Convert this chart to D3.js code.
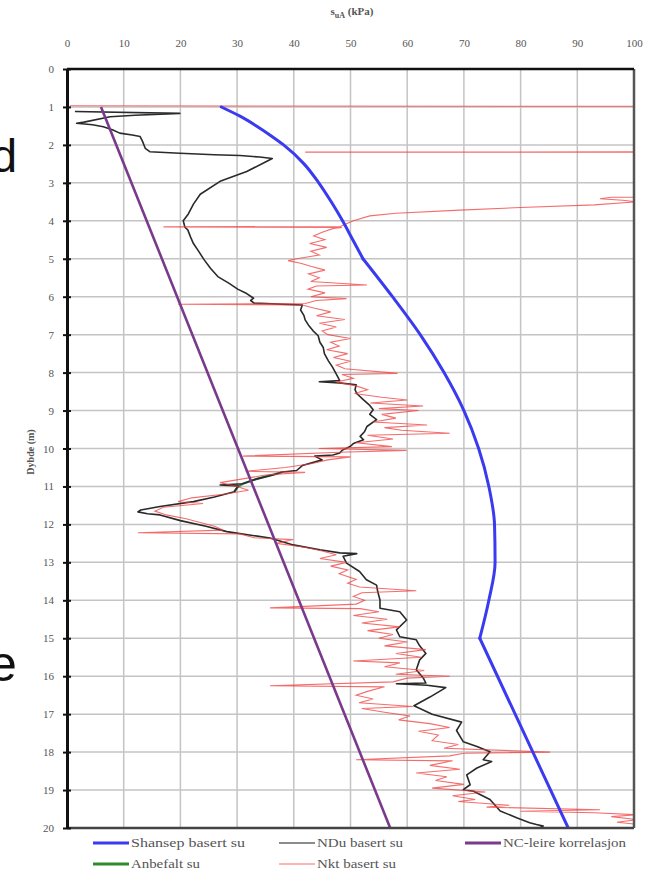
<!DOCTYPE html>
<html>
<head>
<meta charset="utf-8">
<script src="https://cdn.jsdelivr.net/npm/d3@7"></script>
<style>
  html, body { margin: 0; padding: 0; background: #fff; }
  svg { display: block; }
</style>
</head>
<body>
<svg id="chart" width="650" height="872"></svg>
<script>
// akser
const xTicks = [0, 10, 20, 30, 40, 50, 60, 70, 80, 90, 100];
const depthTicks = d3.range(0, 21);

// Shansep basert su (knekk ved 5 m og 15 m)
const shansepDepth = [1, 1.25, 1.5, 1.75, 2, 2.5, 3, 3.5, 4, 4.5, 5, 6, 7, 8, 9, 10, 11, 12, 13, 14, 15, 20];
const shansepSu = [27.2, 30.6, 33.4, 35.9, 38.2, 41.8, 44.4, 46.6, 48.6, 50.4, 52.2, 57.4, 62.3, 66.5, 70.0, 72.6, 74.4, 75.4, 75.5, 74.4, 72.8, 88.4];
const shansepKinks = [5, 15];

// NC-leire korrelasjon
const ncDepth = [1, 20];
const ncSu = [6.0, 57.0];

// Anbefalt su (mest skjult under NDu)
const anbefaltDepth = [10.62, 10.69, 10.8, 10.93, 11.0, 11.14];
const anbefaltSu = [38.0, 36.4, 33.5, 31.0, 30.2, 29.5];

// NDu basert su
const nduDepth = [1.12, 1.17, 1.22, 1.26, 1.4, 1.43, 1.47, 1.52, 1.6, 1.69, 1.74, 1.78, 1.9, 2.09, 2.18, 2.22, 2.26, 2.28, 2.32, 2.36, 2.45, 2.7, 2.96, 3.3, 3.56, 3.82, 4.0, 4.17, 4.24, 4.43, 4.6, 4.8, 5.03, 5.25, 5.47, 5.65, 5.8, 5.9, 6.04, 6.1, 6.17, 6.22, 6.35, 6.5, 6.61, 6.75, 6.9, 7.03, 7.2, 7.34, 7.5, 7.69, 7.85, 8.04, 8.21, 8.24, 8.27, 8.32, 8.45, 8.55, 8.72, 8.85, 8.98, 9.1, 9.24, 9.42, 9.55, 9.68, 9.77, 9.87, 9.94, 10.05, 10.12, 10.17, 10.2, 10.3, 10.45, 10.58, 10.62, 10.69, 10.8, 10.93, 10.96, 10.99, 11.14, 11.28, 11.4, 11.53, 11.62, 11.67, 11.72, 11.75, 11.9, 12.05, 12.19, 12.36, 12.54, 12.67, 12.75, 12.77, 12.84, 13.02, 13.24, 13.46, 13.6, 13.77, 13.99, 14.21, 14.3, 14.52, 14.78, 14.96, 15.04, 15.2, 15.4, 15.57, 15.83, 16.04, 16.18, 16.2, 16.24, 16.3, 16.55, 16.78, 17.0, 17.21, 17.43, 17.73, 17.85, 17.99, 18.2, 18.25, 18.42, 18.6, 18.86, 18.99, 19.03, 19.25, 19.4, 19.55, 19.73, 19.86, 19.91, 19.95, 19.98];
const nduSu = [1.4, 19.9, 12.0, 7.6, 3.0, 1.7, 4.5, 6.4, 8.0, 9.3, 11.5, 12.9, 13.3, 13.8, 14.6, 19.9, 26.0, 30.5, 34.0, 36.2, 35.0, 31.7, 27.0, 23.5, 22.3, 21.4, 20.5, 20.8, 21.3, 21.8, 22.3, 23.2, 24.2, 25.3, 26.6, 28.6, 30.1, 31.5, 32.9, 32.4, 33.0, 41.5, 41.2, 41.8, 42.0, 42.6, 43.4, 44.3, 44.6, 45.2, 45.4, 46.1, 46.8, 47.5, 48.1, 44.5, 48.0, 51.0, 50.8, 51.1, 52.3, 53.3, 54.0, 53.4, 54.6, 52.9, 52.5, 51.7, 52.3, 50.5, 50.0, 48.5, 48.1, 46.9, 43.7, 45.0, 41.5, 40.5, 38.0, 36.4, 33.5, 31.0, 27.0, 30.2, 29.5, 26.0, 22.3, 16.4, 13.0, 12.5, 14.2, 16.4, 20.0, 24.5, 28.2, 35.8, 39.9, 44.6, 48.1, 51.1, 48.7, 49.3, 51.6, 52.8, 54.6, 54.8, 55.2, 55.2, 58.7, 59.9, 58.1, 58.7, 61.6, 62.2, 63.3, 62.2, 61.6, 62.8, 63.3, 58.1, 63.5, 66.8, 64.0, 61.2, 64.4, 69.6, 68.7, 69.9, 72.3, 74.6, 73.4, 74.9, 72.3, 70.5, 71.1, 69.9, 71.7, 74.6, 75.5, 76.4, 79.3, 81.6, 82.8, 84.0, 83.5];

// Nkt basert su
const nktDepth = [0.97, 0.99, 1.02, 2.18, 2.19, 2.2, 3.36, 3.38, 3.42, 3.46, 3.5, 3.58, 3.65, 3.72, 3.8, 3.87, 4.0, 4.1, 4.15, 4.16, 4.175, 4.2, 4.3, 4.4, 4.5, 4.6, 4.7, 4.8, 4.9, 5.0, 5.05, 5.12, 5.2, 5.3, 5.4, 5.5, 5.6, 5.69, 5.72, 5.8, 5.9, 6.0, 6.05, 6.1, 6.18, 6.2, 6.22, 6.3, 6.4, 6.5, 6.6, 6.7, 6.8, 6.9, 7.0, 7.1, 7.2, 7.3, 7.4, 7.5, 7.6, 7.7, 7.8, 7.9, 8.02, 8.05, 8.15, 8.25, 8.35, 8.45, 8.55, 8.65, 8.72, 8.8, 8.88, 8.95, 9.0, 9.1, 9.2, 9.3, 9.38, 9.45, 9.52, 9.6, 9.65, 9.75, 9.85, 9.95, 10.0, 10.05, 10.1, 10.2, 10.22, 10.3, 10.4, 10.5, 10.6, 10.63, 10.7, 10.8, 10.9, 11.0, 11.1, 11.2, 11.3, 11.4, 11.45, 11.55, 11.65, 11.75, 11.85, 11.95, 12.05, 12.15, 12.22, 12.25, 12.35, 12.4, 12.5, 12.6, 12.7, 12.8, 12.9, 13.0, 13.1, 13.2, 13.3, 13.45, 13.55, 13.65, 13.75, 13.8, 13.9, 14.0, 14.1, 14.2, 14.22, 14.3, 14.4, 14.5, 14.6, 14.7, 14.8, 14.9, 15.0, 15.1, 15.2, 15.3, 15.4, 15.5, 15.6, 15.65, 15.75, 15.85, 15.95, 16.0, 16.05, 16.15, 16.25, 16.28, 16.4, 16.5, 16.6, 16.7, 16.8, 16.85, 16.95, 17.05, 17.15, 17.25, 17.35, 17.45, 17.55, 17.7, 17.8, 17.9, 18.0, 18.03, 18.1, 18.2, 18.23, 18.35, 18.45, 18.55, 18.65, 18.75, 18.85, 18.95, 19.05, 19.15, 19.25, 19.3, 19.4, 19.45, 19.52, 19.56, 19.6, 19.65, 19.7, 19.78, 19.85, 19.9, 20.0];
const nktSu = [0.5, 160, 160, 160, 42, 160, 160, 96, 94, 98, 100.5, 93, 80, 69.3, 58, 53.4, 50.5, 49, 48.2, 17, 48.5, 47, 45, 43.5, 45.5, 42.8, 45.8, 43, 44.5, 40.5, 39, 41.2, 43, 45.5, 42.6, 44.5, 43, 52.9, 44, 42.5, 45.5, 43, 49.3, 44, 42, 19.6, 41.5, 43.5, 46.5, 44, 49, 44.5, 47.5, 45, 46, 50, 46.5, 48, 45.8, 49.5, 47, 50, 47.5, 49, 58.3, 48.5, 50.5, 47.5, 51, 53, 50.7, 55.5, 60, 53.5, 62.8, 55, 62, 55.5, 58, 54, 63.5, 56, 59, 67.5, 53, 57.5, 51, 57.3, 44.4, 59.9, 48, 31, 50, 46, 43, 38.5, 31.5, 42, 35, 31, 27, 30, 32, 28, 22, 19.6, 24, 17, 15.5, 17.5, 21, 23.5, 26, 27.5, 12.5, 30.5, 33, 39.9, 37, 42, 45, 47.5, 44.6, 49.3, 46.5, 49.5, 48, 51, 49.5, 51.6, 61.6, 52, 50.5, 52.5, 51, 35.8, 51.7, 55, 50.5, 56.5, 52, 58.7, 53, 57.5, 55, 60, 56, 63.3, 58, 62.5, 50.5, 58.7, 56, 63, 58, 67.5, 60, 57.5, 35.8, 56, 53, 51, 54, 51.5, 61, 52, 56, 60.5, 58.5, 64, 67.5, 62, 65.5, 64.4, 69, 66.5, 85.2, 70, 67.5, 51, 68, 64, 69.3, 61.6, 67, 65, 70, 64.4, 73.8, 68, 72, 69, 78, 74, 94, 80, 93, 100.5, 96, 100.5, 97, 100.5, 100.5];

// tegnforklaring
const legendLabels = ['Shansep basert su', 'NDu basert su', 'NC-leire korrelasjon', 'Anbefalt su', 'Nkt basert su'];
const legendColors = ['#3a3af0', '#8c8c8c', '#7a3a8c', '#2e8b2e', '#ff9a9a'];

const svg = d3.select('#chart');
const plotL = 67, plotR = 634, plotT = 69, plotB = 828;

const x = d3.scaleLinear().domain([0, 100]).range([plotL, plotR]);
const y = d3.scaleLinear().domain([0, 20]).range([plotT, plotB]);

const serif = '"Liberation Serif", "DejaVu Serif", serif';

// løse bokstaver i kanten av siden
svg.append('text').attr('x', -9).attr('y', 172)
  .style('font-family', '"Liberation Sans", Arial, sans-serif')
  .style('font-size', '47px').style('fill', '#111').text('d');
svg.append('text').attr('x', -11).attr('y', 681)
  .style('font-family', '"Liberation Sans", Arial, sans-serif')
  .style('font-size', '50px').style('fill', '#111').text('e');

// rutenett
const grid = svg.append('g');
grid.append('g').selectAll('line')
  .data(xTicks.filter(v => v > 0 && v < 100))
  .join('line')
  .attr('x1', d => x(d)).attr('x2', d => x(d))
  .attr('y1', plotT).attr('y2', plotB)
  .attr('stroke', '#c4c4c4').attr('stroke-width', 1.5);
grid.append('g').selectAll('line')
  .data(depthTicks.filter(v => v > 0 && v < 20))
  .join('line')
  .attr('x1', plotL).attr('x2', plotR)
  .attr('y1', d => y(d)).attr('y2', d => y(d))
  .attr('stroke', '#c4c4c4').attr('stroke-width', 1.5);

svg.append('clipPath').attr('id', 'plotclip')
  .append('rect').attr('x', plotL).attr('y', plotT)
  .attr('width', plotR - plotL).attr('height', plotB - plotT);

const plot = svg.append('g').attr('clip-path', 'url(#plotclip)');

function series(depths, vals) {
  return depths.map((d, i) => [vals[i], d]);
}

const lineLin = d3.line().x(d => x(d[0])).y(d => y(d[1]));
const lineSmooth = d3.line().x(d => x(d[0])).y(d => y(d[1])).curve(d3.curveMonotoneY);

plot.append('path')
  .datum(series(anbefaltDepth, anbefaltSu))
  .attr('d', lineLin)
  .attr('fill', 'none').attr('stroke', '#3c8c5a').attr('stroke-width', 2.2);

plot.append('path')
  .datum(series(nduDepth, nduSu))
  .attr('d', lineLin)
  .attr('fill', 'none').attr('stroke', '#2a2a2a').attr('stroke-width', 1.6)
  .attr('stroke-linejoin', 'round');

plot.append('path')
  .datum(series(nktDepth, nktSu))
  .attr('d', lineLin)
  .attr('fill', 'none').attr('stroke', '#f03c3c').attr('stroke-opacity', 0.75)
  .attr('stroke-width', 1.1);

plot.append('path')
  .datum(series(ncDepth, ncSu))
  .attr('d', lineLin)
  .attr('fill', 'none').attr('stroke', '#7a3a8c').attr('stroke-width', 2.6);

// Shansep tegnes i biter mellom knekkpunktene
const shansepPts = series(shansepDepth, shansepSu);
const breaks = [shansepDepth[0], ...shansepKinks, shansepDepth[shansepDepth.length - 1]];
const shansepParts = d3.pairs(breaks).map(([a, b]) => shansepPts.filter(p => p[1] >= a && p[1] <= b));
plot.append('g').selectAll('path')
  .data(shansepParts)
  .join('path')
  .attr('d', lineSmooth)
  .attr('fill', 'none').attr('stroke', '#3a3af0').attr('stroke-width', 3)
  .attr('stroke-linecap', 'round');

// ramme
svg.append('line').attr('x1', plotR).attr('x2', plotR).attr('y1', plotT).attr('y2', plotB)
  .attr('stroke', '#555').attr('stroke-width', 2.5);
svg.append('line').attr('x1', plotL).attr('x2', plotR).attr('y1', plotB).attr('y2', plotB)
  .attr('stroke', '#444').attr('stroke-width', 2.5);
svg.append('line').attr('x1', plotL).attr('x2', plotR).attr('y1', plotT).attr('y2', plotT)
  .attr('stroke', '#111').attr('stroke-width', 2.5);

// x-akse (oppe)
const xAxis = svg.append('g')
  .attr('transform', `translate(0,${plotT})`)
  .call(d3.axisTop(x).tickValues(xTicks).tickSize(0).tickPadding(22));
xAxis.select('.domain').remove();
xAxis.selectAll('text')
  .style('font-family', serif).style('font-size', '11px').style('fill', '#555');

// y-akse
const yAxis = svg.append('g')
  .attr('transform', `translate(${plotL},0)`)
  .call(d3.axisLeft(y).tickValues(depthTicks).tickSizeInner(4).tickSizeOuter(0).tickPadding(9));
yAxis.select('.domain').attr('stroke', '#111').attr('stroke-width', 3);
yAxis.selectAll('.tick line').attr('x1', 4).attr('x2', -4).attr('stroke', '#111').attr('stroke-width', 2);
yAxis.selectAll('text')
  .style('font-family', serif).style('font-size', '11px').style('fill', '#555');

// titler
const title = svg.append('text')
  .attr('x', 352).attr('y', 15).attr('text-anchor', 'middle')
  .style('font-family', serif).style('font-size', '11px').style('font-weight', 'bold').style('fill', '#555');
title.append('tspan').text('s');
title.append('tspan').attr('dy', 3).style('font-size', '8px').text('uA');
title.append('tspan').attr('dy', -3).text(' (kPa)');

svg.append('text')
  .attr('transform', 'translate(34,452) rotate(-90)')
  .attr('text-anchor', 'middle')
  .style('font-family', serif).style('font-size', '10px').style('font-weight', 'bold').style('fill', '#555')
  .text('Dybde (m)');

// tegnforklaring: 3 kolonner, 2 rader
const colX = [93, 279, 465];
const rowY = [843, 864];
const textW = [114, 86, 123, 69, 79];
const leg = svg.append('g').selectAll('g')
  .data(legendLabels)
  .join('g')
  .attr('transform', (d, i) => `translate(${colX[i % 3]},${rowY[Math.floor(i / 3)]})`);
leg.append('line')
  .attr('x1', 0).attr('x2', 36).attr('y1', 0).attr('y2', 0)
  .attr('stroke', (d, i) => legendColors[i])
  .attr('stroke-width', (d, i) => (i === 1 ? 2 : i === 4 ? 1.5 : 3));
leg.append('text')
  .attr('x', 38).attr('y', 4)
  .attr('textLength', (d, i) => textW[i]).attr('lengthAdjust', 'spacingAndGlyphs')
  .style('font-family', serif).style('font-size', '12px').style('fill', '#555')
  .text(d => d);
</script>
</body>
</html>
